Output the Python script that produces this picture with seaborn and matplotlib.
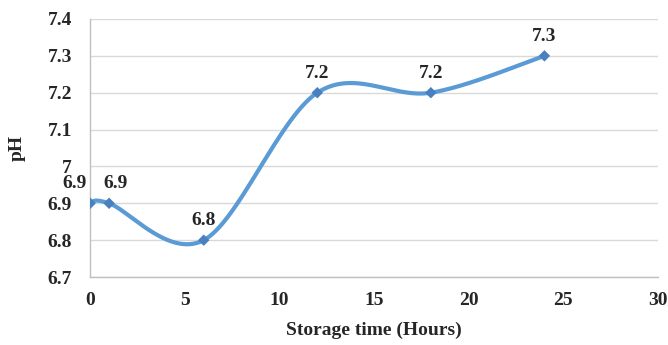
import matplotlib
matplotlib.use('Agg')
import matplotlib.pyplot as plt
import numpy as np
import pandas as pd
import seaborn as sns

# data
hours = [0, 1, 6, 12, 18, 24]
ph = [6.9, 6.9, 6.8, 7.2, 7.2, 7.3]
point_labels = ['6.9', '6.9', '6.8', '7.2', '7.2', '7.3']
y_ticks = [6.7, 6.8, 6.9, 7.0, 7.1, 7.2, 7.3, 7.4]
x_ticks = [0, 5, 10, 15, 20, 25, 30]

sns.set_style('white')
plt.rcParams['font.family'] = ['Liberation Serif', 'DejaVu Serif']
plt.rcParams['font.weight'] = 'bold'

fig = plt.figure(figsize=(6.68, 3.45), dpi=100)
ax = fig.add_axes([0.135, 0.197, 0.85, 0.748])
ax.set_xlim(0, 30)
ax.set_ylim(6.7, 7.4)

# Excel-style smoothed line (cardinal bezier in screen space)
sx, sy = 568 / 30, 258 / 0.7
P = np.column_stack([np.array(hours) * sx, (np.array(ph) - 6.7) * sy])
Pe = np.vstack([P[0], P, P[-1]])
t = np.linspace(0, 1, 60)[:, None]
seg = []
for i in range(len(P) - 1):
    p0, p3 = Pe[i + 1], Pe[i + 2]
    c1 = p0 + (Pe[i + 2] - Pe[i]) / 6
    c2 = p3 - (Pe[i + 3] - Pe[i + 1]) / 6
    b = (1 - t) ** 3 * p0 + 3 * (1 - t) ** 2 * t * c1 + 3 * (1 - t) * t ** 2 * c2 + t ** 3 * p3
    seg.append(b)
curve = np.vstack(seg)
smooth = pd.DataFrame({'x': curve[:, 0] / sx, 'y': curve[:, 1] / sy + 6.7})

sns.lineplot(data=smooth, x='x', y='y', sort=False, color='#5b9bd5', lw=3, ax=ax, zorder=3)
sns.scatterplot(x=hours, y=ph, marker='D', s=34, color='#4a7fc0', edgecolor='none', ax=ax, zorder=4)

offsets = [(-11, 8), (5, 8), (0, 8), (0, 8), (0, 8), (0, 8)]
for xv, yv, lab, off in zip(hours, ph, point_labels, offsets):
    ax.annotate(lab, (xv, yv), xytext=off, textcoords='offset points',
                ha='center', va='bottom', fontsize=14, fontweight='bold')

ax.set_yticks(y_ticks)
ax.set_yticklabels([f'{v:g}' for v in y_ticks])
ax.set_xticks(x_ticks)
ax.grid(axis='y', color='#d9d9d9', lw=1)
ax.grid(axis='x', visible=False)
for s in ['top', 'right']:
    ax.spines[s].set_visible(False)
for s in ['left', 'bottom']:
    ax.spines[s].set_color('#bfbfbf')
    ax.spines[s].set_linewidth(1)
ax.tick_params(axis='both', length=4, color='#bfbfbf', width=1, labelsize=14)
ax.tick_params(axis='y', pad=9)
ax.tick_params(axis='x', pad=7)
ax.set_xlabel('Storage time (Hours)', fontsize=14, fontweight='bold', labelpad=9)
ax.set_ylabel('pH', fontsize=14, fontweight='bold', labelpad=16)

fig.savefig('out.png', dpi=100)
